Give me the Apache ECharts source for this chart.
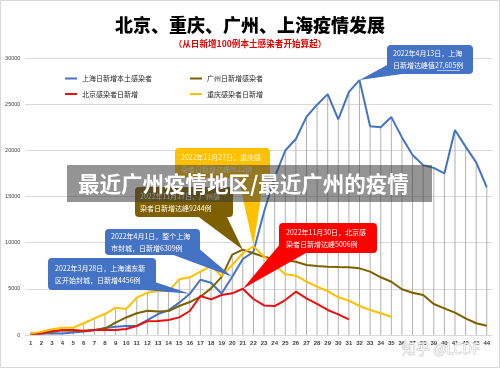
<!DOCTYPE html>
<html><head><meta charset="utf-8">
<script src="https://cdn.jsdelivr.net/npm/echarts@6/dist/echarts.min.js"></script>
<style>html,body{margin:0;padding:0;background:#fff}#c{width:500px;height:368px}</style>
</head><body><div id="c"></div><script>
const categories = ['1','2','3','4','5','6','7','8','9','10','11','12','13','14','15','16','17','18','19','20','21','22','23','24','25','26','27','28','29','30','31','32','33','34','35','36','37','38','39','40','41','42','43','44'];
const seriesNames = ['上海日新增本土感染者','广州日新增感染者','北京感染者日新增','重庆感染者日新增'];
const shanghai = [169,139,202,158,260,374,509,758,896,981,983,1609,2269,2676,3500,4456,5982,5653,4502,6309,8226,9006,13354,17077,19982,21222,23624,24943,26087,23342,26330,27605,22600,22500,23600,21400,19500,18400,18100,17500,22200,20400,18700,16000];
const guangzhou = [100,180,350,500,450,420,530,700,1350,1900,2350,2630,2550,2600,3140,3570,4150,5050,6300,8700,9244,8850,8480,8200,8120,7940,7580,7470,7400,7360,7330,7220,6860,6250,5770,4950,4580,4330,3360,2890,2420,1810,1270,1010];
const beijing = [100,180,430,540,540,470,540,540,540,650,970,1500,1520,1620,1910,2600,4220,3860,4330,4510,5006,3900,3200,3140,3790,4690,3970,3360,2710,2240,1700];
const chongqing = [150,360,620,790,790,1270,1800,2270,2960,2820,4040,4580,4760,4760,6030,6250,6860,7470,6400,7580,8850,9612,8480,7580,6570,6420,5770,5230,4760,4080,3720,3140,2710,2350,1980];
const yMin = 0, yMax = 30000, yStep = 5000;
const colors = ['#4472C4','#7F6000','#E81010','#FFC000'];

const allSeries = [shanghai, guangzhou, beijing, chongqing];
const dropTops = categories.map((c, i) => Math.max(...allSeries.map(s => (s[i] == null ? 0 : s[i]))));

const labelled = {
  0: {31: {position:'top', color:'#2F5597', distance:4}, 19: {position:'top', color:'#2E75B6', distance:5}, 15: {position:'top', color:'#2F5597', distance:5}},
  1: {20: {position:'top', color:'#404040', distance:6}},
  2: {20: {position:'bottom', color:'#E81010', distance:5}},
  3: {21: {position:'right', color:'#FFC000', distance:4}}
};
function mk(arr, si) {
  return arr.map((v, i) => {
    const l = labelled[si][i];
    if (!l) return v;
    return {value: v, label: {show: true, position: l.position, distance: l.distance, color: l.color,
      fontSize: 7, fontWeight: 'bold', fontFamily: 'Liberation Sans, Arial'}};
  });
}

const chart = echarts.init(document.getElementById('c'), null, {renderer: 'canvas'});
const FONT = 'Noto Sans CJK SC';
const lineSeries = allSeries.map((arr, si) => ({
  name: seriesNames[si], type: 'line', data: mk(arr, si), symbol: 'none', smooth: false,
  lineStyle: {width: 2, color: colors[si]}, itemStyle: {color: colors[si]}, z: 3 + si,
  animation: false
}));

chart.setOption({
  animation: false,
  grid: {left: 25.4, right: 7.9, top: 58, bottom: 33, containLabel: false},
  legend: [
    {left: 60, top: 70, orient: 'vertical', itemGap: 8.5, itemWidth: 12, itemHeight: 2, icon: 'rect',
     data: [seriesNames[0], seriesNames[2]], textStyle: {fontSize: 7, color: '#262626', fontFamily: FONT}},
    {left: 185, top: 70, orient: 'vertical', itemGap: 8.5, itemWidth: 12, itemHeight: 2, icon: 'rect',
     data: [seriesNames[1], seriesNames[3]], textStyle: {fontSize: 7, color: '#262626', fontFamily: FONT}}
  ],
  xAxis: {type: 'category', data: categories, boundaryGap: true,
    axisTick: {show: false}, axisLine: {lineStyle: {color: '#d9d9d9'}},
    axisLabel: {interval: 0, fontSize: 6, fontWeight: 'bold', color: '#404040', margin: 5, fontFamily: 'Liberation Sans, Arial'}},
  yAxis: {type: 'value', min: yMin, max: yMax, interval: yStep,
    axisLine: {show: false}, axisTick: {show: false},
    splitLine: {lineStyle: {color: '#d9d9d9', width: 1}},
    axisLabel: {fontSize: 5.5, color: '#404040', margin: 5, fontFamily: 'Liberation Sans, Arial', formatter: v => String(v)}},
  series: [{type: 'bar', data: dropTops, barWidth: 1, silent: true, z: 1,
    itemStyle: {color: '#b0b0b0'}, animation: false}].concat(lineSeries)
});

function tip(si, idx) {
  return chart.convertToPixel({seriesIndex: si + 1}, [idx, allSeries[si][idx]]);
}
function callout(box, color, text, base, tp, textColor) {
  return [
    {type: 'polygon', z: 50, shape: {points: [base[0], base[1], tp]}, style: {fill: color}},
    {type: 'rect', z: 51, shape: {x: box[0], y: box[1], width: box[2], height: box[3], r: 4}, style: {fill: color}},
    {type: 'text', z: 52, x: box[0] + box[4], y: box[1] + box[3] / 2,
     style: {text: text, fill: textColor || '#fff', font: '7px "' + FONT + '"', lineHeight: 12,
       textVerticalAlign: 'middle', verticalAlign: 'middle'}}
  ];
}
const g = [];
g.push({type: 'rect', z: 0, shape: {x: 0.5, y: 0.5, width: 499, height: 367}, style: {fill: 'none', stroke: '#d9d9d9', lineWidth: 1}});
g.push({type: 'text', z: 10, x: 250, y: 25, style: {text: '北京、重庆、广州、上海疫情发展', fill: '#000',
  font: '900 18px "' + FONT + '"', textAlign: 'center', textVerticalAlign: 'middle', align: 'center', verticalAlign: 'middle'}});
g.push({type: 'text', z: 10, x: 250, y: 44, style: {text: '（从日新增100例本土感染者开始算起）', fill: '#E00000',
  font: 'bold 8.6px "' + FONT + '"', textAlign: 'center', textVerticalAlign: 'middle', align: 'center', verticalAlign: 'middle'}});
g.push(...callout([387, 45, 86, 29, 6], '#4472C4', '2022年4月13日，上海\n日新增达峰值27,605例', [[389, 64], [402, 74]], tip(0, 31)));
g.push({type: 'line', z: 53, shape: {x1: 437, y1: 70.5, x2: 460, y2: 70.5}, style: {stroke: '#fff', lineWidth: 0.6}});
g.push(...callout([175, 148, 95, 30, 6], '#FFC000', '2022年11月27日，重庆感\n染者日新增达峰9612例', [[238, 176], [264, 176]], tip(3, 21), '#FFF8E0'));
g.push(...callout([135, 187, 98, 30, 5], '#7F6000', '2022年11月17日，广州感\n染者日新增达峰9244例', [[196, 215], [226, 215]], tip(1, 20)));
g.push(...callout([105, 229, 95, 26, 6], '#4472C4', '2022年4月1日，整个上海\n市封城，日新增6309例', [[168, 253], [197, 247]], tip(0, 19)));
g.push(...callout([48, 258, 108, 32, 7], '#4472C4', '2022年3月28日，上海浦东新\n区开始封城，日新增4456例', [[132, 289], [155, 282]], tip(0, 15)));
g.push(...callout([279, 223, 98, 30, 7], '#FF0000', '2022年11月30日，北京感\n染者日新增达峰5006例', [[281, 243], [306, 253]], tip(2, 20)));
g.push({type: 'rect', z: 90, shape: {x: 67, y: 165, width: 365, height: 37}, style: {fill: 'rgba(60,60,60,0.55)'}});
g.push({type: 'text', z: 91, x: 78, y: 184, style: {text: '最近广州疫情地区/最近广州的疫情', fill: '#fff',
  font: 'bold 21.5px "' + FONT + '"', textVerticalAlign: 'middle', verticalAlign: 'middle'}});
g.push({type: 'text', z: 91, x: 402, y: 349, style: {text: '知乎 @LCDF', fill: 'rgba(255,255,255,0.7)', stroke: '#c8c8c8', lineWidth: 0.8,
  font: '14px "' + FONT + '"', textVerticalAlign: 'middle', verticalAlign: 'middle'}});
chart.setOption({graphic: {elements: g}});
</script></body></html>
